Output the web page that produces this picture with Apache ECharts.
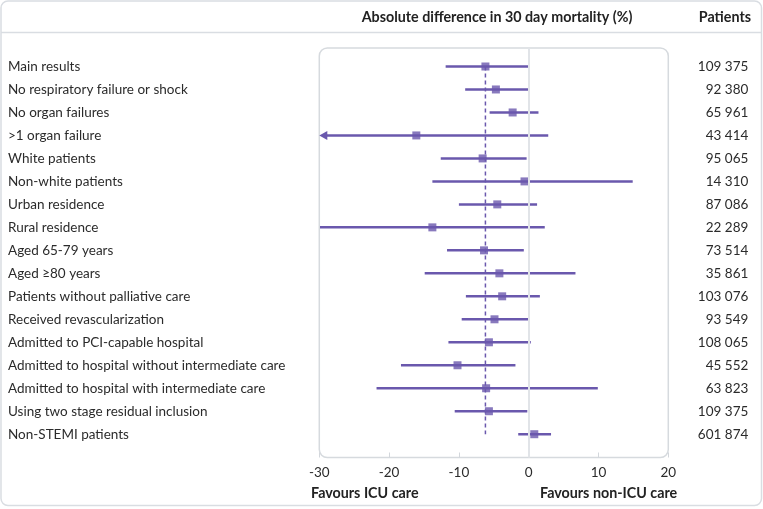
<!DOCTYPE html>
<html><head><meta charset="utf-8">
<script src="https://cdn.jsdelivr.net/npm/echarts@6/dist/echarts.min.js"></script>
<style>html,body{margin:0;padding:0;background:#fff}#c{width:763px;height:509px}</style>
</head><body><div id="c"></div>
<script>
const categories = [
  'Main results',
  'No respiratory failure or shock',
  'No organ failures',
  '>1 organ failure',
  'White patients',
  'Non-white patients',
  'Urban residence',
  'Rural residence',
  'Aged 65-79 years',
  'Aged \u226580 years',
  'Patients without palliative care',
  'Received revascularization',
  'Admitted to PCI-capable hospital',
  'Admitted to hospital without intermediate care',
  'Admitted to hospital with intermediate care',
  'Using two stage residual inclusion',
  'Non-STEMI patients'
];
const estimates = [-6.2, -4.7, -2.3, -16.1, -6.6, -0.6, -4.5, -13.8, -6.4, -4.2, -3.8, -4.9, -5.7, -10.2, -6.1, -5.7, 0.8];
const lowerCI   = [-11.9, -9.1, -5.6, -34.0, -12.6, -13.8, -10.0, -29.9, -11.7, -14.9, -9.0, -9.6, -11.5, -18.3, -21.8, -10.6, -1.5];
const upperCI   = [-0.1, 0.1, 1.4, 2.8, -0.3, 14.9, 1.2, 2.3, -0.7, 6.7, 1.6, 0.1, 0.3, -1.9, 9.9, -0.2, 3.2];
const patients  = ['109 375','92 380','65 961','43 414','95 065','14 310','87 086','22 289','73 514','35 861','103 076','93 549','108 065','45 552','63 823','109 375','601 874'];
const xTicks = [-30, -20, -10, 0, 10, 20];

const PURPLE = '#6a58ad';
const FONT = 'Lato';
const TXT = '#2b2b2b';
const XMIN = xTicks[0], XMAX = xTicks[xTicks.length - 1];

const chart = echarts.init(document.getElementById('c'), null, {renderer: 'canvas'});

const ciData = categories.map((c, i) => [lowerCI[i], upperCI[i], i]);

chart.setOption({
  animation: false,
  textStyle: {fontFamily: FONT},
  grid: [
    {left: 319.3, width: 349, top: 55, height: 390.7, containLabel: false},
    {left: 319.3, width: 349, top: 48, height: 409.5, containLabel: false}
  ],
  xAxis: [
    {gridIndex: 0, type: 'value', min: XMIN, max: XMAX, show: false},
    {gridIndex: 1, type: 'value', min: XMIN, max: XMAX, interval: 10,
     axisLine: {show: false},
     axisTick: {show: true, inside: true, length: 5, lineStyle: {color: '#d3d7dc', width: 1}},
     splitLine: {show: false},
     axisLabel: {margin: 8, fontSize: 13.5, color: TXT, fontFamily: FONT}}
  ],
  yAxis: [
    {gridIndex: 0, type: 'category', inverse: true, data: categories,
     axisLine: {show: false}, axisTick: {show: false}, splitLine: {show: false},
     axisLabel: {align: 'left', margin: 311.3, fontSize: 13.5, color: TXT, fontFamily: FONT}},
    {gridIndex: 0, type: 'category', inverse: true, position: 'right', data: patients,
     axisLine: {show: false}, axisTick: {show: false}, splitLine: {show: false},
     axisLabel: {align: 'right', margin: 80, fontSize: 13.5, color: TXT, fontFamily: FONT}},
    {gridIndex: 1, type: 'value', min: 0, max: 1, show: false}
  ],
  series: [
    {
      type: 'line', xAxisIndex: 1, yAxisIndex: 2, data: [], silent: true,
      markLine: {symbol: 'none', silent: true, label: {show: false},
        lineStyle: {color: '#e1e4e8', width: 2, type: 'solid'},
        data: [{xAxis: 0}]}
    },
    {
      type: 'custom', xAxisIndex: 0, yAxisIndex: 0, data: ciData,
      encode: {x: [0, 1], y: 2}, z: 3,
      renderItem: function (params, api) {
        const lo = api.value(0), hi = api.value(1), idx = api.value(2);
        const clipped = lo < XMIN;
        const p1 = api.coord([Math.max(lo, XMIN), idx]);
        const p2 = api.coord([Math.min(hi, XMAX), idx]);
        const children = [{
          type: 'line',
          shape: {x1: p1[0] + (clipped ? 4 : 0), y1: p1[1], x2: p2[0], y2: p2[1]},
          style: {stroke: PURPLE, lineWidth: 2.5}
        }];
        if (clipped) {
          children.push({
            type: 'polygon',
            shape: {points: [[p1[0], p1[1]], [p1[0] + 8, p1[1] - 4.5], [p1[0] + 8, p1[1] + 4.5]]},
            style: {fill: PURPLE}
          });
        }
        return {type: 'group', children: children};
      }
    },
    {
      type: 'line', xAxisIndex: 0, yAxisIndex: 0, z: 2, symbol: 'none', silent: true,
      data: [[estimates[0], categories[0]], [estimates[0], categories[categories.length - 1]]],
      lineStyle: {color: PURPLE, width: 1.5, type: [4, 3]}
    },
    {
      type: 'scatter', xAxisIndex: 0, yAxisIndex: 0, z: 4,
      symbol: 'rect', symbolSize: 8,
      itemStyle: {color: PURPLE},
      data: estimates.map((v, i) => [v, categories[i]])
    }
  ],
  graphic: [
    {type: 'rect', z: -10, shape: {x: 1, y: 1, width: 760.5, height: 504.5, r: 7},
     style: {fill: 'none', stroke: '#d9dde2', lineWidth: 1.5}},
    {type: 'line', z: -10, shape: {x1: 1, y1: 32.5, x2: 761.5, y2: 32.5},
     style: {stroke: '#d9dde2', lineWidth: 1.5}},
    {type: 'rect', z: -10, shape: {x: 319.3, y: 48, width: 349, height: 409.5, r: 8},
     style: {fill: 'none', stroke: '#d6dade', lineWidth: 1.5}},
    {type: 'text', x: 497, y: 17, style: {text: 'Absolute difference in 30 day mortality (%)',
      fontFamily: FONT, fontSize: 14.3, fontWeight: 'bold', fill: '#222', align: 'center', verticalAlign: 'middle'}},
    {type: 'text', x: 751, y: 17, style: {text: 'Patients',
      fontFamily: FONT, fontSize: 14.3, fontWeight: 'bold', fill: '#222', align: 'right', verticalAlign: 'middle'}},
    {type: 'text', x: 311, y: 493, style: {text: 'Favours ICU care',
      fontFamily: FONT, fontSize: 14.3, fontWeight: 'bold', fill: '#222', align: 'left', verticalAlign: 'middle'}},
    {type: 'text', x: 540, y: 493, style: {text: 'Favours non-ICU care',
      fontFamily: FONT, fontSize: 14.3, fontWeight: 'bold', fill: '#222', align: 'left', verticalAlign: 'middle'}}
  ]
});
</script>
</body></html>
